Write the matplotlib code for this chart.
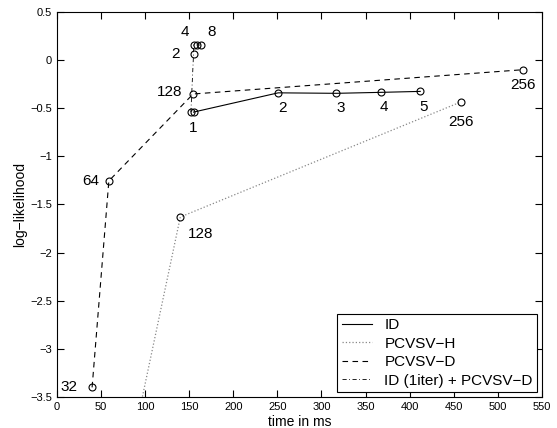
import matplotlib
matplotlib.use("Agg")
import matplotlib.pyplot as plt

plt.rcParams['font.family'] = ['Liberation Sans', 'DejaVu Sans']

# ID (solid)
id_t = [155, 251, 317, 367, 412]
id_ll = [-0.54, -0.34, -0.345, -0.335, -0.325]
id_lab = ["1", "2", "3", "4", "5"]

# PCVSV-H (dotted), first point lies below the plotted range
h_t = [85, 140, 458]
h_ll = [-4.02, -1.63, -0.435]
h_lab = ["", "128", "256"]

# PCVSV-D (dashed)
d_t = [40, 59, 154.5, 528]
d_ll = [-3.40, -1.255, -0.352, -0.10]
d_lab = ["32", "64", "128", "256"]

# ID (1iter) + PCVSV-D (dash-dot)
c_t = [152, 155, 155, 159, 164]
c_ll = [-0.54, 0.065, 0.157, 0.157, 0.157]
c_lab = ["", "2", "4", "", "8"]

fig = plt.figure(figsize=(5.57, 4.28), dpi=100)
ax = fig.add_axes([0.102, 0.0724, 0.871, 0.8996])

mk = dict(marker='o', markersize=5, markerfacecolor='none', markeredgewidth=0.8)
ax.plot(id_t, id_ll, '-', color='k', lw=0.8, label='ID', markeredgecolor='k', **mk)
ax.plot(h_t, h_ll, ':', color='#888888', lw=0.9, label='PCVSV\u2212H', markeredgecolor='k', **mk)
ax.plot(d_t, d_ll, '--', color='k', lw=0.8, dashes=(5, 4), label='PCVSV\u2212D', markeredgecolor='k', **mk)
ax.plot(c_t, c_ll, '-.', color='k', lw=0.6, dashes=(5, 3, 1, 3), label='ID (1iter) + PCVSV\u2212D', markeredgecolor='k', **mk)

def put(ts, ls, labs, offs):
    for t, l, s, o in zip(ts, ls, labs, offs):
        if s:
            ax.annotate(s, (t, l), xytext=o, textcoords='offset pixels',
                        ha='center', va='center', fontsize=11)

put(id_t, id_ll, id_lab, [(0, -16), (4, -15), (4, -15), (3, -15), (3, -16)])
put(h_t, h_ll, h_lab, [(0, 0), (20, -17), (0, -20)])
put(d_t, d_ll, d_lab, [(-23, 0), (-18, 0), (-23, 2), (0, -15)])
put(c_t, c_ll, c_lab, [(0, 0), (-18, 0), (-9, 13), (0, 0), (10, 13)])

ax.set_xlim(0, 550)
ax.set_ylim(-3.5, 0.5)
ax.set_xticks(range(0, 551, 50))
ax.set_yticks([0.5, 0, -0.5, -1, -1.5, -2, -2.5, -3, -3.5])
ax.set_yticklabels(['0.5', '0', '\u22120.5', '\u22121', '\u22121.5', '\u22122', '\u22122.5', '\u22123', '\u22123.5'])
ax.tick_params(direction='in', top=True, right=True, labelsize=8, length=5, width=0.8)
for sp in ax.spines.values():
    sp.set_linewidth(0.8)

ax.set_xlabel('time in ms', fontsize=10, labelpad=2)
ax.set_ylabel('log\u2212likelihood', fontsize=10, labelpad=2)

leg = ax.legend(loc='lower right', fontsize=11, fancybox=False, framealpha=1,
                edgecolor='k', borderpad=0.3, labelspacing=0.3, handlelength=2.0,
                borderaxespad=0.3)
leg.get_frame().set_linewidth(0.8)
for h in leg.get_lines():
    h.set_marker('')

fig.savefig('out.png', dpi=100)
